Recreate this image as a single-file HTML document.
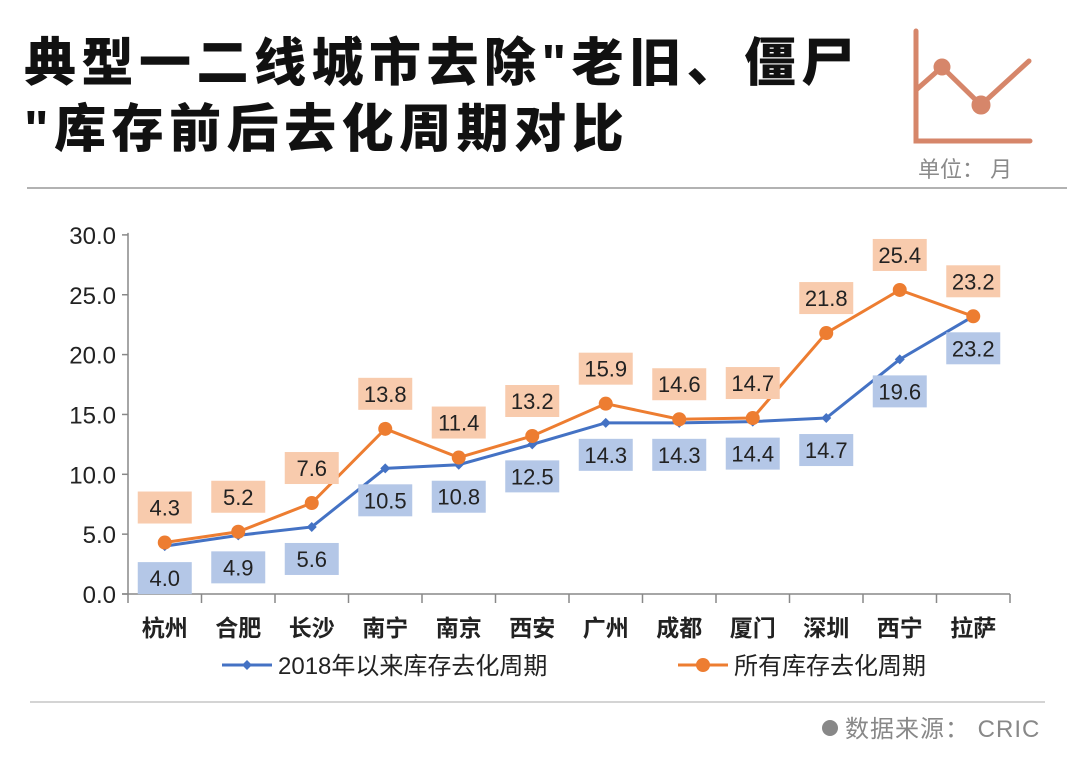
<!DOCTYPE html>
<html><head><meta charset="utf-8"><style>
body{margin:0;background:#fff;width:1080px;height:761px;overflow:hidden;font-family:"Liberation Sans","Noto Sans CJK SC",sans-serif;}
.t{position:absolute;left:24px;font-weight:900;font-size:52px;color:#111;letter-spacing:5.5px;line-height:60px;white-space:nowrap;}
</style></head><body>
<div class="t" style="top:34px">典型一二线城市去除"老旧、僵尸</div>
<div class="t" style="top:100px">"库存前后去化周期对比</div>
<svg width="1080" height="761" style="position:absolute;left:0;top:0" id="s">
<g stroke="#d6866a" stroke-width="5" fill="none" stroke-linecap="round">
<polyline points="916,31 916,141 1030,141"/>
<polyline points="916,90 942,67 981,105 1029,61"/>
<circle cx="942" cy="67" r="6" fill="#d6866a"/><circle cx="981" cy="105" r="7" fill="#d6866a"/>
</g>
<text x="918" y="177" font-size="22" fill="#8a8a8a" font-family="Liberation Sans,Noto Sans CJK SC,sans-serif">单位： 月</text>
<line x1="27" y1="188" x2="1067" y2="188" stroke="#999" stroke-width="1.5"/>
<line x1="30" y1="702" x2="1045" y2="702" stroke="#aaa" stroke-width="1"/>
<circle cx="830" cy="728" r="8" fill="#888"/>
<text x="845" y="737" font-size="24" letter-spacing="1" fill="#888" font-family="Liberation Sans,Noto Sans CJK SC,sans-serif">数据来源： CRIC</text>
<g id="chart"></g>
</svg>
<script>
const categories=["杭州","合肥","长沙","南宁","南京","西安","广州","成都","厦门","深圳","西宁","拉萨"];
const blueVals=[4.0,4.9,5.6,10.5,10.8,12.5,14.3,14.3,14.4,14.7,19.6,23.2];
const orangeVals=[4.3,5.2,7.6,13.8,11.4,13.2,15.9,14.6,14.7,21.8,25.4,23.2];
const yTicks=[0,5,10,15,20,25,30];
const seriesNames=["2018年以来库存去化周期","所有库存去化周期"];
const NS="http://www.w3.org/2000/svg";
const g=document.getElementById('chart');
const x0=128,bw=73.5,y0=594,ppu=11.97;
const X=i=>x0+bw*(i+0.5);
const Y=v=>y0-v*ppu;
function mk(tag,attrs,parent){const e=document.createElementNS(NS,tag);for(const k in attrs)e.setAttribute(k,attrs[k]);(parent||g).appendChild(e);return e;}
const F='Liberation Sans,Noto Sans CJK SC,sans-serif';
let ax=mk('line',{x1:x0,y1:Y(30)-2,x2:x0,y2:y0,stroke:'#888','stroke-width':1.5});


let xa=mk('line',{x1:x0-6,y1:y0,x2:x0+bw*12,y2:y0,stroke:'#888','stroke-width':1.5});


yTicks.forEach(v=>{
 mk('line',{x1:x0-6,y1:Y(v),x2:x0,y2:Y(v),stroke:'#888','stroke-width':1.5});
 const t=mk('text',{x:x0-12,y:Y(v)+9,'text-anchor':'end','font-size':24,fill:'#222','font-family':F});
 t.textContent=v.toFixed(1);
 
 
});
for(let i=0;i<=12;i++)mk('line',{x1:x0+bw*i,y1:y0,x2:x0+bw*i,y2:y0+9,stroke:'#888','stroke-width':1.5});
categories.forEach((c,i)=>{
 const t=mk('text',{x:X(i),y:636,'text-anchor':'middle','font-size':23,'font-weight':'bold',fill:'#222','font-family':F});
 t.textContent=c;
 
 
});
function series(vals,color,marker,name){
 const p=mk('polyline',{points:vals.map((v,i)=>X(i)+','+Y(v)).join(' '),fill:'none',stroke:color,'stroke-width':3});
 
 
 vals.forEach((v,i)=>{
  let m;
  if(marker==='circle')m=mk('circle',{cx:X(i),cy:Y(v),r:7,fill:color});
  else m=mk('path',{d:`M${X(i)} ${Y(v)-5}L${X(i)+5} ${Y(v)}L${X(i)} ${Y(v)+5}L${X(i)-5} ${Y(v)}Z`,fill:color});
  
  
 });
}
function labels(vals,fill,dy,name){
 vals.forEach((v,i)=>{
  const cy=Y(v)+dy;
  const r=mk('rect',{x:X(i)-27,y:cy-16,width:54,height:32,fill:fill});
  
  
  const t=mk('text',{x:X(i),y:cy+8,'text-anchor':'middle','font-size':22,fill:'#222','font-family':F});
  t.textContent=v.toFixed(1);
  
  
 });
}
series(blueVals,'#4472c4','diamond','blue-series');
series(orangeVals,'#ed7d31','circle','orange-series');
labels(orangeVals,'#f8cbad',-35,'orange');
labels(blueVals,'#b4c7e7',32,'blue');
const lg=[[222,'#4472c4','diamond'],[678,'#ed7d31','circle']];
lg.forEach((l,k)=>{
 mk('line',{x1:l[0],y1:665,x2:l[0]+50,y2:665,stroke:l[1],'stroke-width':3});
 let m=l[2]==='circle'?mk('circle',{cx:l[0]+25,cy:665,r:7,fill:l[1]}):mk('path',{d:`M${l[0]+25} 660L${l[0]+30} 665L${l[0]+25} 670L${l[0]+20} 665Z`,fill:l[1]});
 
 
 const t=mk('text',{x:l[0]+56,y:674,'font-size':24,fill:'#222','font-family':F});
 t.textContent=seriesNames[k];
 
 
});
</script>
</body></html>
